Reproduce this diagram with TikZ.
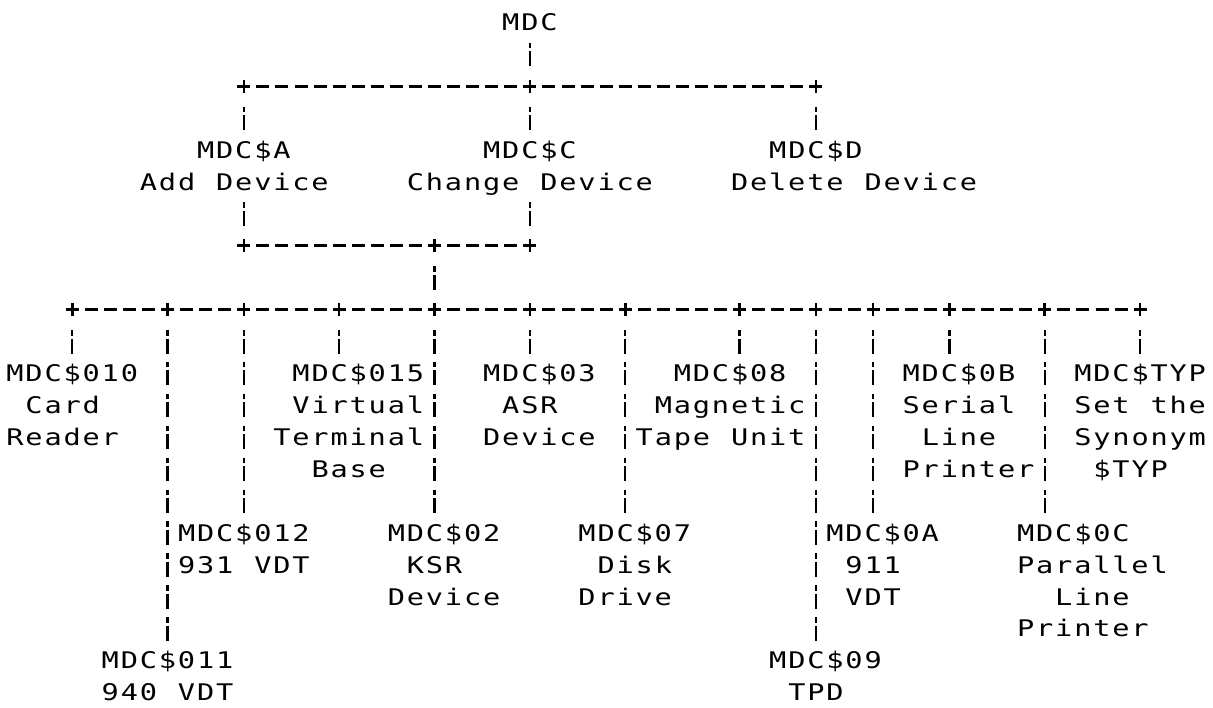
\documentclass[tikz,border=0pt]{standalone}
\usepackage{fontspec}
\setmonofont{DejaVu Sans Mono}[FakeStretch=1.25]
\makeatletter
\newcommand\grd[1]{\grd@#1\@nil}
\def\grd@#1{\ifx#1\@nil\else\makebox[19.07pt][c]{#1}\expandafter\grd@\fi}
\makeatother
\begin{document}
\begin{tikzpicture}[x=19.07pt,y=-31.9pt,
  txt/.style={inner sep=0pt,outer sep=0pt,minimum height=31.9pt,text height=19.7pt,text depth=3pt,anchor=west,font=\ttfamily\fontsize{22.9pt}{31.9pt}\selectfont},
  jn/.style={inner sep=0pt,outer sep=0pt,minimum width=13pt,minimum height=31.9pt},
  hbar/.style={line width=2.8pt,dash pattern=on 13pt off 6.07pt},
  vbar/.style={line width=2.4pt,dash pattern=on 5.5pt off 3pt on 15pt off 8.4pt,dash phase=27.4pt},
  tick/.style={line width=2.6pt}]
\fill[white] (-0.7866,-0.7053) rectangle (62.821,21.458);
\useasboundingbox (-0.7866,-0.7053) rectangle (62.821,21.458);

% top level
\node[txt] (mdc) at (25.5,0) {\grd{MDC}};
\node[txt] (ma)  at (9.5,4)  {\grd{MDC\$A}};
\node[txt] (ma2) at (6.5,5)  {\grd{Add~Device}};
\node[txt] (mc)  at (24.5,4) {\grd{MDC\$C}};
\node[txt] (mc2) at (20.5,5) {\grd{Change~Device}};
\node[txt] (md)  at (39.5,4) {\grd{MDC\$D}};
\node[txt] (md2) at (37.5,5) {\grd{Delete~Device}};

% devices
\node[txt] (n010) at (-0.5,11) {\grd{MDC\$010}};
\node[txt] (n010b) at (0.5,12) {\grd{Card}};
\node[txt] (n010c) at (-0.5,13) {\grd{Reader}};

\node[txt] (n015) at (14.5,11) {\grd{MDC\$015}};
\node[txt] (n015b) at (14.5,12) {\grd{Virtual}};
\node[txt] (n015c) at (13.5,13) {\grd{Terminal}};
\node[txt] (n015d) at (15.5,14) {\grd{Base}};

\node[txt] (n03) at (24.5,11) {\grd{MDC\$03}};
\node[txt] (n03b) at (25.5,12) {\grd{ASR}};
\node[txt] (n03c) at (24.5,13) {\grd{Device}};

\node[txt] (n08) at (34.5,11) {\grd{MDC\$08}};
\node[txt] (n08b) at (33.5,12) {\grd{Magnetic}};
\node[txt] (n08c) at (32.5,13) {\grd{Tape~Unit}};

\node[txt] (n0B) at (46.5,11) {\grd{MDC\$0B}};
\node[txt] (n0Bb) at (46.5,12) {\grd{Serial}};
\node[txt] (n0Bc) at (47.5,13) {\grd{Line}};
\node[txt] (n0Bd) at (46.5,14) {\grd{Printer}};

\node[txt] (nTYP) at (55.5,11) {\grd{MDC\$TYP}};
\node[txt] (nTYPb) at (55.5,12) {\grd{Set~the}};
\node[txt] (nTYPc) at (55.5,13) {\grd{Synonym}};
\node[txt] (nTYPd) at (56.5,14) {\grd{\$TYP}};

\node[txt] (n012) at (8.5,16) {\grd{MDC\$012}};
\node[txt] (n012b) at (8.5,17) {\grd{931~VDT}};

\node[txt] (n02) at (19.5,16) {\grd{MDC\$02}};
\node[txt] (n02b) at (20.5,17) {\grd{KSR}};
\node[txt] (n02c) at (19.5,18) {\grd{Device}};

\node[txt] (n07) at (29.5,16) {\grd{MDC\$07}};
\node[txt] (n07b) at (30.5,17) {\grd{Disk}};
\node[txt] (n07c) at (29.5,18) {\grd{Drive}};

\node[txt] (n0A) at (42.5,16) {\grd{MDC\$0A}};
\node[txt] (n0Ab) at (43.5,17) {\grd{911}};
\node[txt] (n0Ac) at (43.5,18) {\grd{VDT}};

\node[txt] (n0C) at (52.5,16) {\grd{MDC\$0C}};
\node[txt] (n0Cb) at (52.5,17) {\grd{Parallel}};
\node[txt] (n0Cc) at (54.5,18) {\grd{Line}};
\node[txt] (n0Cd) at (52.5,19) {\grd{Printer}};

\node[txt] (n011) at (4.5,20) {\grd{MDC\$011}};
\node[txt] (n011b) at (4.5,21) {\grd{940~VDT}};

\node[txt] (n09) at (39.5,20) {\grd{MDC\$09}};
\node[txt] (n09b) at (40.5,21) {\grd{TPD}};

% junctions
\foreach \c in {12,27,42} \node[jn] (j2c\c) at (\c,2) {};
\foreach \c in {12,22,27} \node[jn] (j7c\c) at (\c,7) {};
\foreach \c in {3,8,12,17,22,27,32,38,42,45,49,54,59} \node[jn] (j9c\c) at (\c,9) {};

% horizontal bars
\draw[hbar] (j2c12.west) -- (j2c42.east);
\draw[hbar] (j7c12.west) -- (j7c27.east);
\draw[hbar] (j9c3.west) -- (j9c59.east);
\foreach \c in {12,27,42} \draw[tick] ([yshift=-6.5pt]j2c\c.center) -- ([yshift=6.5pt]j2c\c.center);
\foreach \c in {12,22,27} \draw[tick] ([yshift=-6.5pt]j7c\c.center) -- ([yshift=6.5pt]j7c\c.center);
\foreach \c in {3,8,12,17,22,27,32,38,42,45,49,54,59} \draw[tick] ([yshift=-6.5pt]j9c\c.center) -- ([yshift=6.5pt]j9c\c.center);

% vertical connectors
\draw[vbar] (mdc.south -| j2c27) -- (j2c27.north);
\draw[vbar] (j2c12.south) -- (j2c12 |- ma.north);
\draw[vbar] (j2c27.south) -- (j2c27 |- mc.north);
\draw[vbar] (j2c42.south) -- (j2c42 |- md.north);
\draw[vbar] (ma2.south -| j7c12) -- (j7c12.north);
\draw[vbar] (mc2.south -| j7c27) -- (j7c27.north);
\draw[vbar] (j7c22.south) -- (j9c22.north);

\draw[vbar] (j9c3.south) -- (j9c3 |- n010.north);
\draw[vbar] (j9c8.south) -- (j9c8 |- n011.north);
\draw[vbar] (j9c12.south) -- (j9c12 |- n012.north);
\draw[vbar] (j9c17.south) -- (j9c17 |- n015.north);
\draw[vbar] (j9c22.south) -- (j9c22 |- n02.north);
\draw[vbar] (j9c27.south) -- (j9c27 |- n03.north);
\draw[vbar] (j9c32.south) -- (j9c32 |- n07.north);
\draw[vbar] (j9c38.south) -- (j9c38 |- n08.north);
\draw[vbar] (j9c42.south) -- (j9c42 |- n09.north);
\draw[vbar] (j9c45.south) -- (j9c45 |- n0A.north);
\draw[vbar] (j9c49.south) -- (j9c49 |- n0B.north);
\draw[vbar] (j9c54.south) -- (j9c54 |- n0C.north);
\draw[vbar] (j9c59.south) -- (j9c59 |- nTYP.north);
\end{tikzpicture}
\end{document}
